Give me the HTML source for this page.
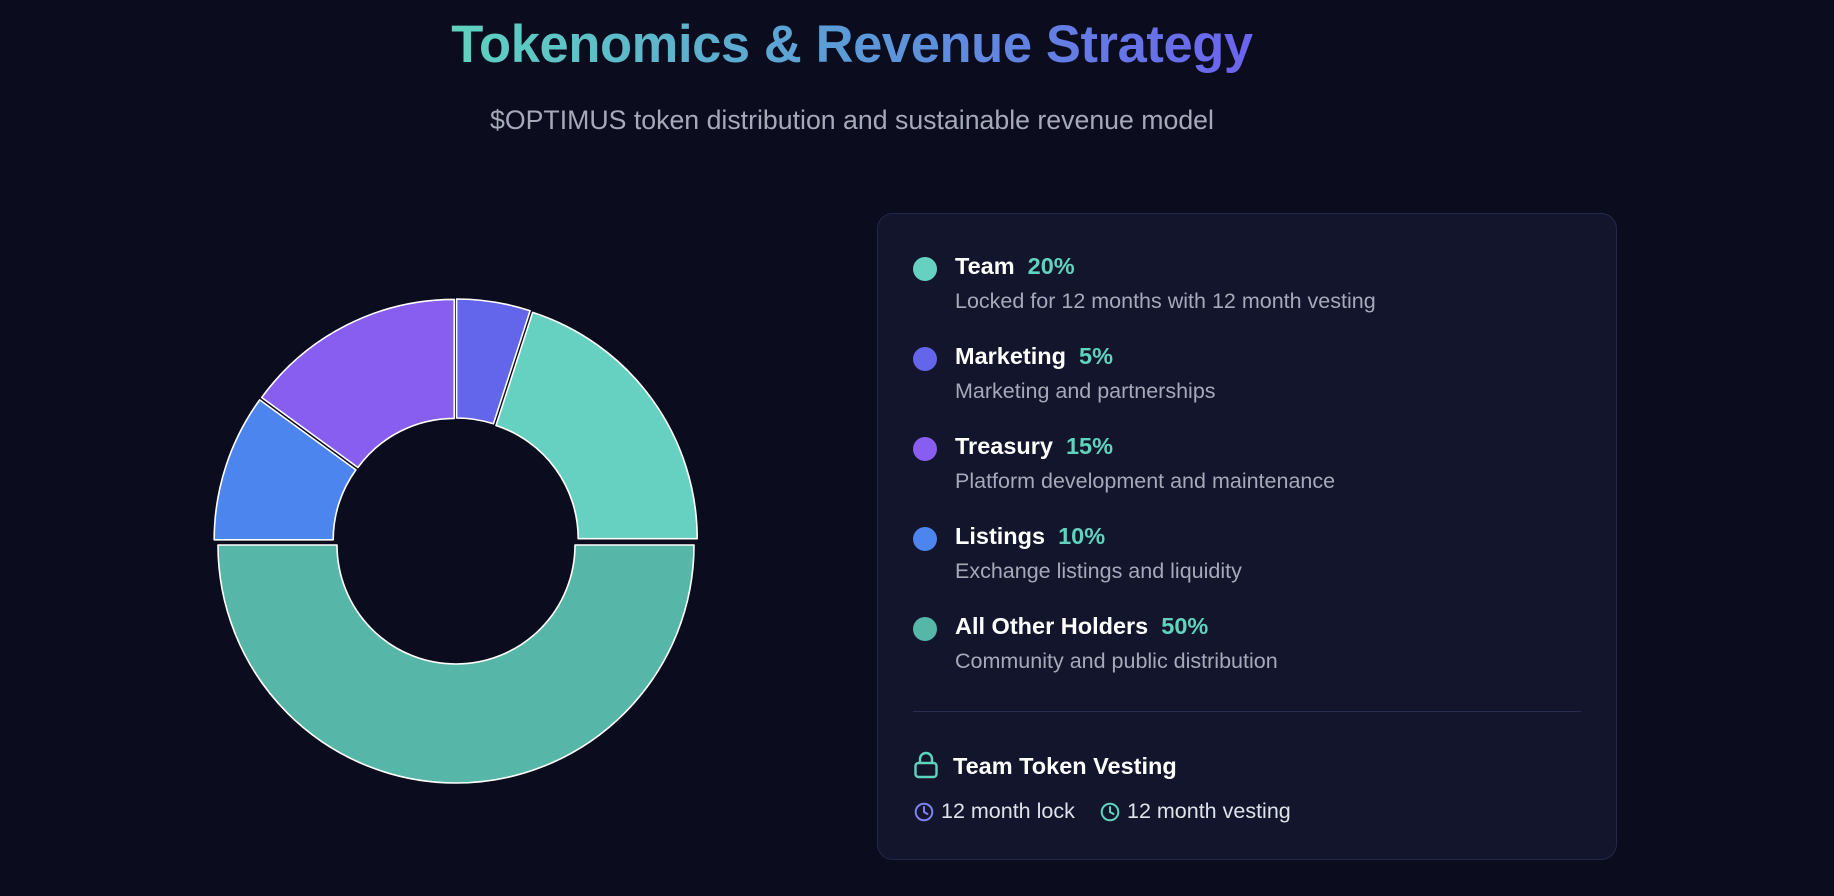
<!DOCTYPE html>
<html><head><meta charset="utf-8"><style>
html,body{margin:0;padding:0;width:1834px;height:896px;background:#0b0d1e;overflow:hidden;font-family:"Liberation Sans",sans-serif}
.title{position:absolute;left:0;width:1704px;top:14px;text-align:center;font-size:52.5px;font-weight:bold;letter-spacing:-0.4px}
.title span{background:linear-gradient(90deg,#5fd3be,#5b9ad8 50%,#6c63ee);-webkit-background-clip:text;background-clip:text;color:transparent}
.sub{position:absolute;left:0;width:1704px;top:105px;text-align:center;font-size:26.7px;color:#a6a9b8}
.panel{position:absolute;left:877px;top:213px;width:740px;height:647px;background:#12152b;border:1px solid #23284a;border-radius:16px;box-sizing:border-box}
.item{position:absolute;left:35px}
.dot{position:absolute;left:0;top:0;width:24px;height:24px;border-radius:50%}
.lab{position:absolute;white-space:nowrap;font-size:23.5px;font-weight:bold;color:#fff}
.lab b{color:#5fd3be;margin-left:13px}
.desc{position:absolute;white-space:nowrap;font-size:21.5px;color:#a6a9b8}
</style></head><body>
<div class="title"><span>Tokenomics &amp; Revenue Strategy</span></div>
<div class="sub">$OPTIMUS token distribution and sustainable revenue model</div>
<svg width="1834" height="896" style="position:absolute;left:0;top:0">
<g transform="translate(456,541)">
<g stroke="#ffffff" stroke-width="1.6" stroke-linejoin="round">
<path transform="translate(0.6,-4)" fill="#6366ea" d="M0,-238 A238,238 0 0 1 73.5,-226.3 L36.8,-113.2 A119,119 0 0 0 0,-119 Z"/>
<path transform="translate(3.2,-2.3)" fill="#67d1c1" d="M73.5,-226.3 A238,238 0 0 1 238,0 L119,0 A119,119 0 0 0 36.8,-113.2 Z"/>
<path transform="translate(0,4)" fill="#56b6a8" d="M238,0 A238,238 0 0 1 -238,0 L-119,0 A119,119 0 0 0 119,0 Z"/>
<path transform="translate(-3.8,-1.2)" fill="#4d85ee" d="M-238,0 A238,238 0 0 1 -192.5,-139.9 L-96.3,-69.9 A119,119 0 0 0 -119,0 Z"/>
<path transform="translate(-1.8,-3.6)" fill="#885ef0" d="M-192.5,-139.9 A238,238 0 0 1 0,-238 L0,-119 A119,119 0 0 0 -96.3,-69.9 Z"/>
</g></g></svg>
<div class="panel">
<div class="item" style="top:43px"><div class="dot" style="background:#67d1c1"></div><div class="lab" style="left:42px;top:-4px">Team<b>20%</b></div><div class="desc" style="left:42px;top:32px">Locked for 12 months with 12 month vesting</div></div>
<div class="item" style="top:133px"><div class="dot" style="background:#6366ea"></div><div class="lab" style="left:42px;top:-4px">Marketing<b>5%</b></div><div class="desc" style="left:42px;top:32px">Marketing and partnerships</div></div>
<div class="item" style="top:223px"><div class="dot" style="background:#885ef0"></div><div class="lab" style="left:42px;top:-4px">Treasury<b>15%</b></div><div class="desc" style="left:42px;top:32px">Platform development and maintenance</div></div>
<div class="item" style="top:313px"><div class="dot" style="background:#4d85ee"></div><div class="lab" style="left:42px;top:-4px">Listings<b>10%</b></div><div class="desc" style="left:42px;top:32px">Exchange listings and liquidity</div></div>
<div class="item" style="top:403px"><div class="dot" style="background:#56b6a8"></div><div class="lab" style="left:42px;top:-4px">All Other Holders<b>50%</b></div><div class="desc" style="left:42px;top:32px">Community and public distribution</div></div>
<div style="position:absolute;left:35px;right:35px;top:497px;height:1px;background:#262c52"></div>
<svg style="position:absolute;left:35px;top:537px" width="26" height="28" viewBox="0 0 26 28"><rect x="2.5" y="12" width="21" height="14" rx="3" fill="none" stroke="#5fd3be" stroke-width="2.4"/><path d="M7,12 V8 a6,6 0 0 1 12,0 V12" fill="none" stroke="#5fd3be" stroke-width="2.4"/></svg>
<div style="position:absolute;left:75px;top:539px;font-size:23.5px;font-weight:bold;color:#fff">Team Token Vesting</div>
<svg style="position:absolute;left:36px;top:588px" width="20" height="20" viewBox="0 0 20 20"><circle cx="10" cy="10" r="8.3" fill="none" stroke="#7c82f0" stroke-width="2"/><path d="M10,5 V10 L13.5,12" fill="none" stroke="#7c82f0" stroke-width="2" stroke-linecap="round"/></svg>
<div style="position:absolute;left:63px;top:585px;font-size:21.5px;color:#e0e2ea">12 month lock</div>
<svg style="position:absolute;left:222px;top:588px" width="20" height="20" viewBox="0 0 20 20"><circle cx="10" cy="10" r="8.3" fill="none" stroke="#5fd3be" stroke-width="2"/><path d="M10,5 V10 L13.5,12" fill="none" stroke="#5fd3be" stroke-width="2" stroke-linecap="round"/></svg>
<div style="position:absolute;left:249px;top:585px;font-size:21.5px;color:#e0e2ea">12 month vesting</div>
</div>
</body></html>
